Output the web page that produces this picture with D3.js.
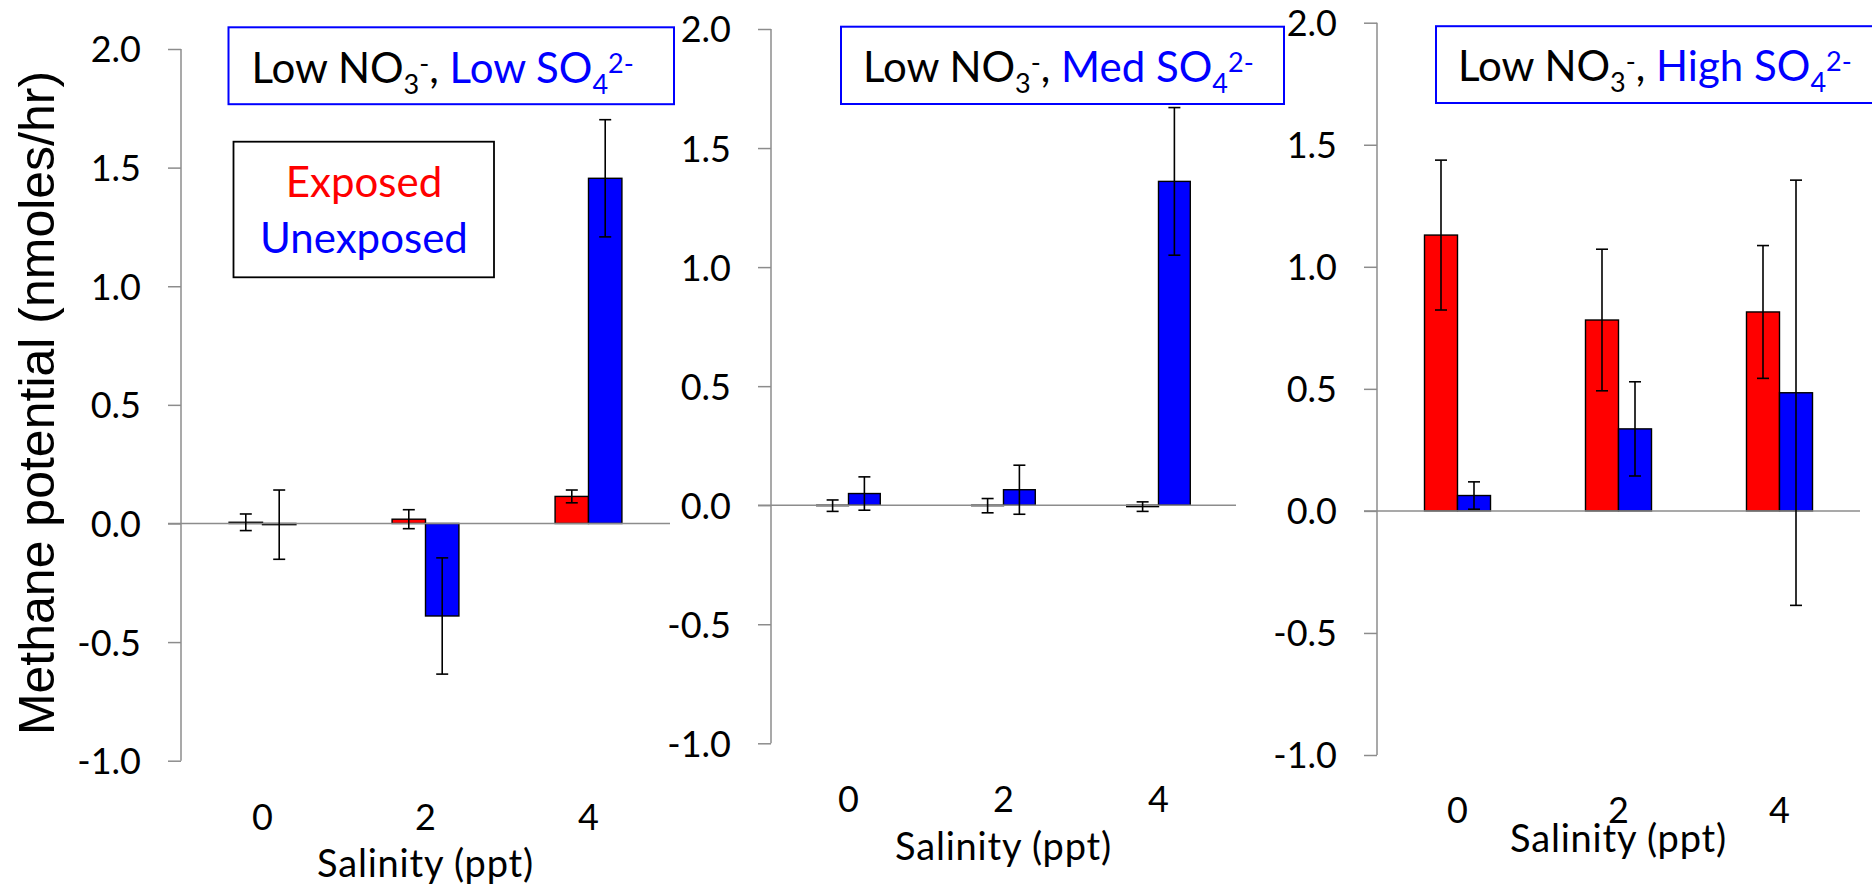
<!DOCTYPE html>
<html>
<head>
<meta charset="utf-8">
<script src="https://cdn.jsdelivr.net/npm/d3@7"></script>
<style>
  html, body { margin: 0; padding: 0; background: #fff; }
  svg { display: block; }
</style>
</head>
<body>
<svg id="chart" width="1872" height="889"></svg>
<script>
// ---- data ----
const salinity = ["0", "2", "4"];
const seriesNames = ["Exposed", "Unexposed"];
const sulfateLevels = ["Low", "Med", "High"];
const yTickValues = [-1.0, -0.5, 0.0, 0.5, 1.0, 1.5, 2.0];

// Low sulfate
const exposedLowSO4 = [0.005, 0.018, 0.114];
const exposedLowSO4Err = [0.035, 0.040, 0.027];
const unexposedLowSO4 = [-0.005, -0.390, 1.455];
const unexposedLowSO4Err = [0.146, 0.245, 0.247];

// Medium sulfate
const exposedMedSO4 = [-0.002, -0.002, -0.006];
const exposedMedSO4Err = [0.024, 0.030, 0.020];
const unexposedMedSO4 = [0.049, 0.065, 1.360];
const unexposedMedSO4Err = [0.070, 0.103, 0.310];

// High sulfate
const exposedHighSO4 = [1.130, 0.782, 0.815];
const exposedHighSO4Err = [0.307, 0.290, 0.272];
const unexposedHighSO4 = [0.063, 0.336, 0.484];
const unexposedHighSO4Err = [0.056, 0.193, 0.871];

const seriesColors = { Exposed: "#ff0000", Unexposed: "#0000ff" };

// ---- panel geometry ----
const panelLayout = [
  { x0: 181,  x1: 670,  yTop: 49,   yBot: 760.7, catY: 830,   titleY: 877,
    box: { x: 228.5, y: 27.3, w: 445.5, h: 76.9 }, textX: 251.5, textY: 82.5 },
  { x0: 771,  x1: 1236, yTop: 29,   yBot: 743.3, catY: 812,   titleY: 860,
    box: { x: 841,   y: 26.7, w: 443,   h: 77.3 }, textX: 863,   textY: 81.5 },
  { x0: 1377, x1: 1860, yTop: 22.7, yBot: 755,   catY: 823.3, titleY: 851.7,
    box: { x: 1436,  y: 26.2, w: 460,   h: 76.8 }, textX: 1458,  textY: 81 }
];

const panels = [
  { sulfate: sulfateLevels[0],
    Exposed: exposedLowSO4, ExposedErr: exposedLowSO4Err,
    Unexposed: unexposedLowSO4, UnexposedErr: unexposedLowSO4Err },
  { sulfate: sulfateLevels[1],
    Exposed: exposedMedSO4, ExposedErr: exposedMedSO4Err,
    Unexposed: unexposedMedSO4, UnexposedErr: unexposedMedSO4Err },
  { sulfate: sulfateLevels[2],
    Exposed: exposedHighSO4, ExposedErr: exposedHighSO4Err,
    Unexposed: unexposedHighSO4, UnexposedErr: unexposedHighSO4Err }
];

const svg = d3.select("#chart");
const labelFont = "Lato, 'Open Sans', sans-serif";
const axisGray = "#8c8c8c";

panels.forEach((p, i) => {
  const L = panelLayout[i];
  const g = svg.append("g");

  const y = d3.scaleLinear().domain([-1, 2]).range([L.yBot, L.yTop]);
  const x = d3.scaleBand().domain(salinity).range([L.x0, L.x1]);
  const barW = x.bandwidth() * 0.205;
  const xs = d3.scaleBand().domain(seriesNames).range([-barW, barW]);

  // y axis
  const yAxis = d3.axisLeft(y)
    .tickValues(yTickValues)
    .tickSize(13)
    .tickPadding(27)
    .tickFormat(d => d.toFixed(1));
  const ag = g.append("g").attr("transform", `translate(${L.x0},0)`).call(yAxis);
  ag.select(".domain").attr("stroke", axisGray).attr("stroke-width", 1.5)
    .attr("d", `M0,${y(-1)}V${y(2)}`);
  ag.selectAll(".tick line").attr("stroke", axisGray).attr("stroke-width", 1.5);
  ag.selectAll(".tick text")
    .attr("fill", "#000")
    .style("font-family", labelFont)
    .style("font-size", "36px")
    .attr("dy", "0.36em");

  // bars
  const rows = [];
  salinity.forEach((s, k) => {
    seriesNames.forEach(name => {
      rows.push({ s, name, v: p[name][k], e: p[name + "Err"][k] });
    });
  });

  g.selectAll("rect.bar").data(rows).enter().append("rect")
    .attr("class", "bar")
    .attr("x", d => x(d.s) + x.bandwidth() / 2 + xs(d.name))
    .attr("width", xs.bandwidth())
    .attr("y", d => Math.min(y(d.v), y(0)))
    .attr("height", d => Math.abs(y(d.v) - y(0)))
    .attr("fill", d => seriesColors[d.name])
    .attr("stroke", "#000")
    .attr("stroke-width", 1.4);

  // zero line (category axis)
  g.append("line")
    .attr("x1", L.x0 - 13).attr("x2", L.x1)
    .attr("y1", y(0)).attr("y2", y(0))
    .attr("stroke", axisGray).attr("stroke-width", 1.5);

  // error bars
  const cap = 6;
  const eg = g.selectAll("g.err").data(rows).enter().append("g").attr("class", "err")
    .attr("transform", d => `translate(${x(d.s) + x.bandwidth() / 2 + xs(d.name) + xs.bandwidth() / 2},0)`);
  eg.append("line").attr("x1", 0).attr("x2", 0)
    .attr("y1", d => y(d.v + d.e)).attr("y2", d => y(d.v - d.e));
  eg.append("line").attr("x1", -cap).attr("x2", cap)
    .attr("y1", d => y(d.v + d.e)).attr("y2", d => y(d.v + d.e));
  eg.append("line").attr("x1", -cap).attr("x2", cap)
    .attr("y1", d => y(d.v - d.e)).attr("y2", d => y(d.v - d.e));
  eg.selectAll("line").attr("stroke", "#000").attr("stroke-width", 1.6);

  // category labels
  g.selectAll("text.cat").data(salinity).enter().append("text")
    .attr("class", "cat")
    .attr("x", d => x(d) + x.bandwidth() / 2)
    .attr("y", L.catY)
    .attr("text-anchor", "middle")
    .style("font-family", labelFont)
    .style("font-size", "36px")
    .text(d => d);

  // x axis title
  g.append("text")
    .attr("x", (L.x0 + L.x1) / 2)
    .attr("y", L.titleY)
    .attr("text-anchor", "middle")
    .style("font-family", labelFont)
    .style("font-size", "38px")
    .style("letter-spacing", "0.8px")
    .text("Salinity (ppt)");

  // treatment box
  g.append("rect")
    .attr("x", L.box.x).attr("y", L.box.y)
    .attr("width", L.box.w).attr("height", L.box.h)
    .attr("fill", "#fff").attr("stroke", "#0000ff").attr("stroke-width", 2);

  const t = g.append("text")
    .attr("x", L.textX).attr("y", L.textY)
    .style("font-family", labelFont)
    .style("font-size", "42px");
  t.append("tspan").attr("fill", "#000").text("Low NO");
  t.append("tspan").attr("fill", "#000").style("font-size", "27px").attr("dy", 11).text("3");
  t.append("tspan").attr("fill", "#000").style("font-size", "27px").attr("dy", -21).text("-");
  t.append("tspan").attr("fill", "#000").attr("dy", 10).text(", ");
  t.append("tspan").attr("fill", "#0000ff").text(p.sulfate + " SO");
  t.append("tspan").attr("fill", "#0000ff").style("font-size", "27px").attr("dy", 11).text("4");
  t.append("tspan").attr("fill", "#0000ff").style("font-size", "27px").attr("dy", -21).text("2-");
});

// legend (first panel)
const lg = svg.append("g");
lg.append("rect")
  .attr("x", 233.5).attr("y", 141.7).attr("width", 260.5).attr("height", 135.6)
  .attr("fill", "#fff").attr("stroke", "#000").attr("stroke-width", 1.8);
lg.selectAll("text").data(seriesNames).enter().append("text")
  .attr("x", 364)
  .attr("y", (d, i) => 197 + i * 56)
  .attr("text-anchor", "middle")
  .attr("fill", d => seriesColors[d])
  .style("font-family", labelFont)
  .style("font-size", "42px")
  .text(d => d);

// shared y axis title
svg.append("text")
  .attr("transform", "translate(54,403) rotate(-90)")
  .attr("text-anchor", "middle")
  .style("font-family", "'Liberation Sans', Arial, sans-serif")
  .style("font-size", "50px")
  .text("Methane potential (nmoles/hr)");
</script>
</body>
</html>
